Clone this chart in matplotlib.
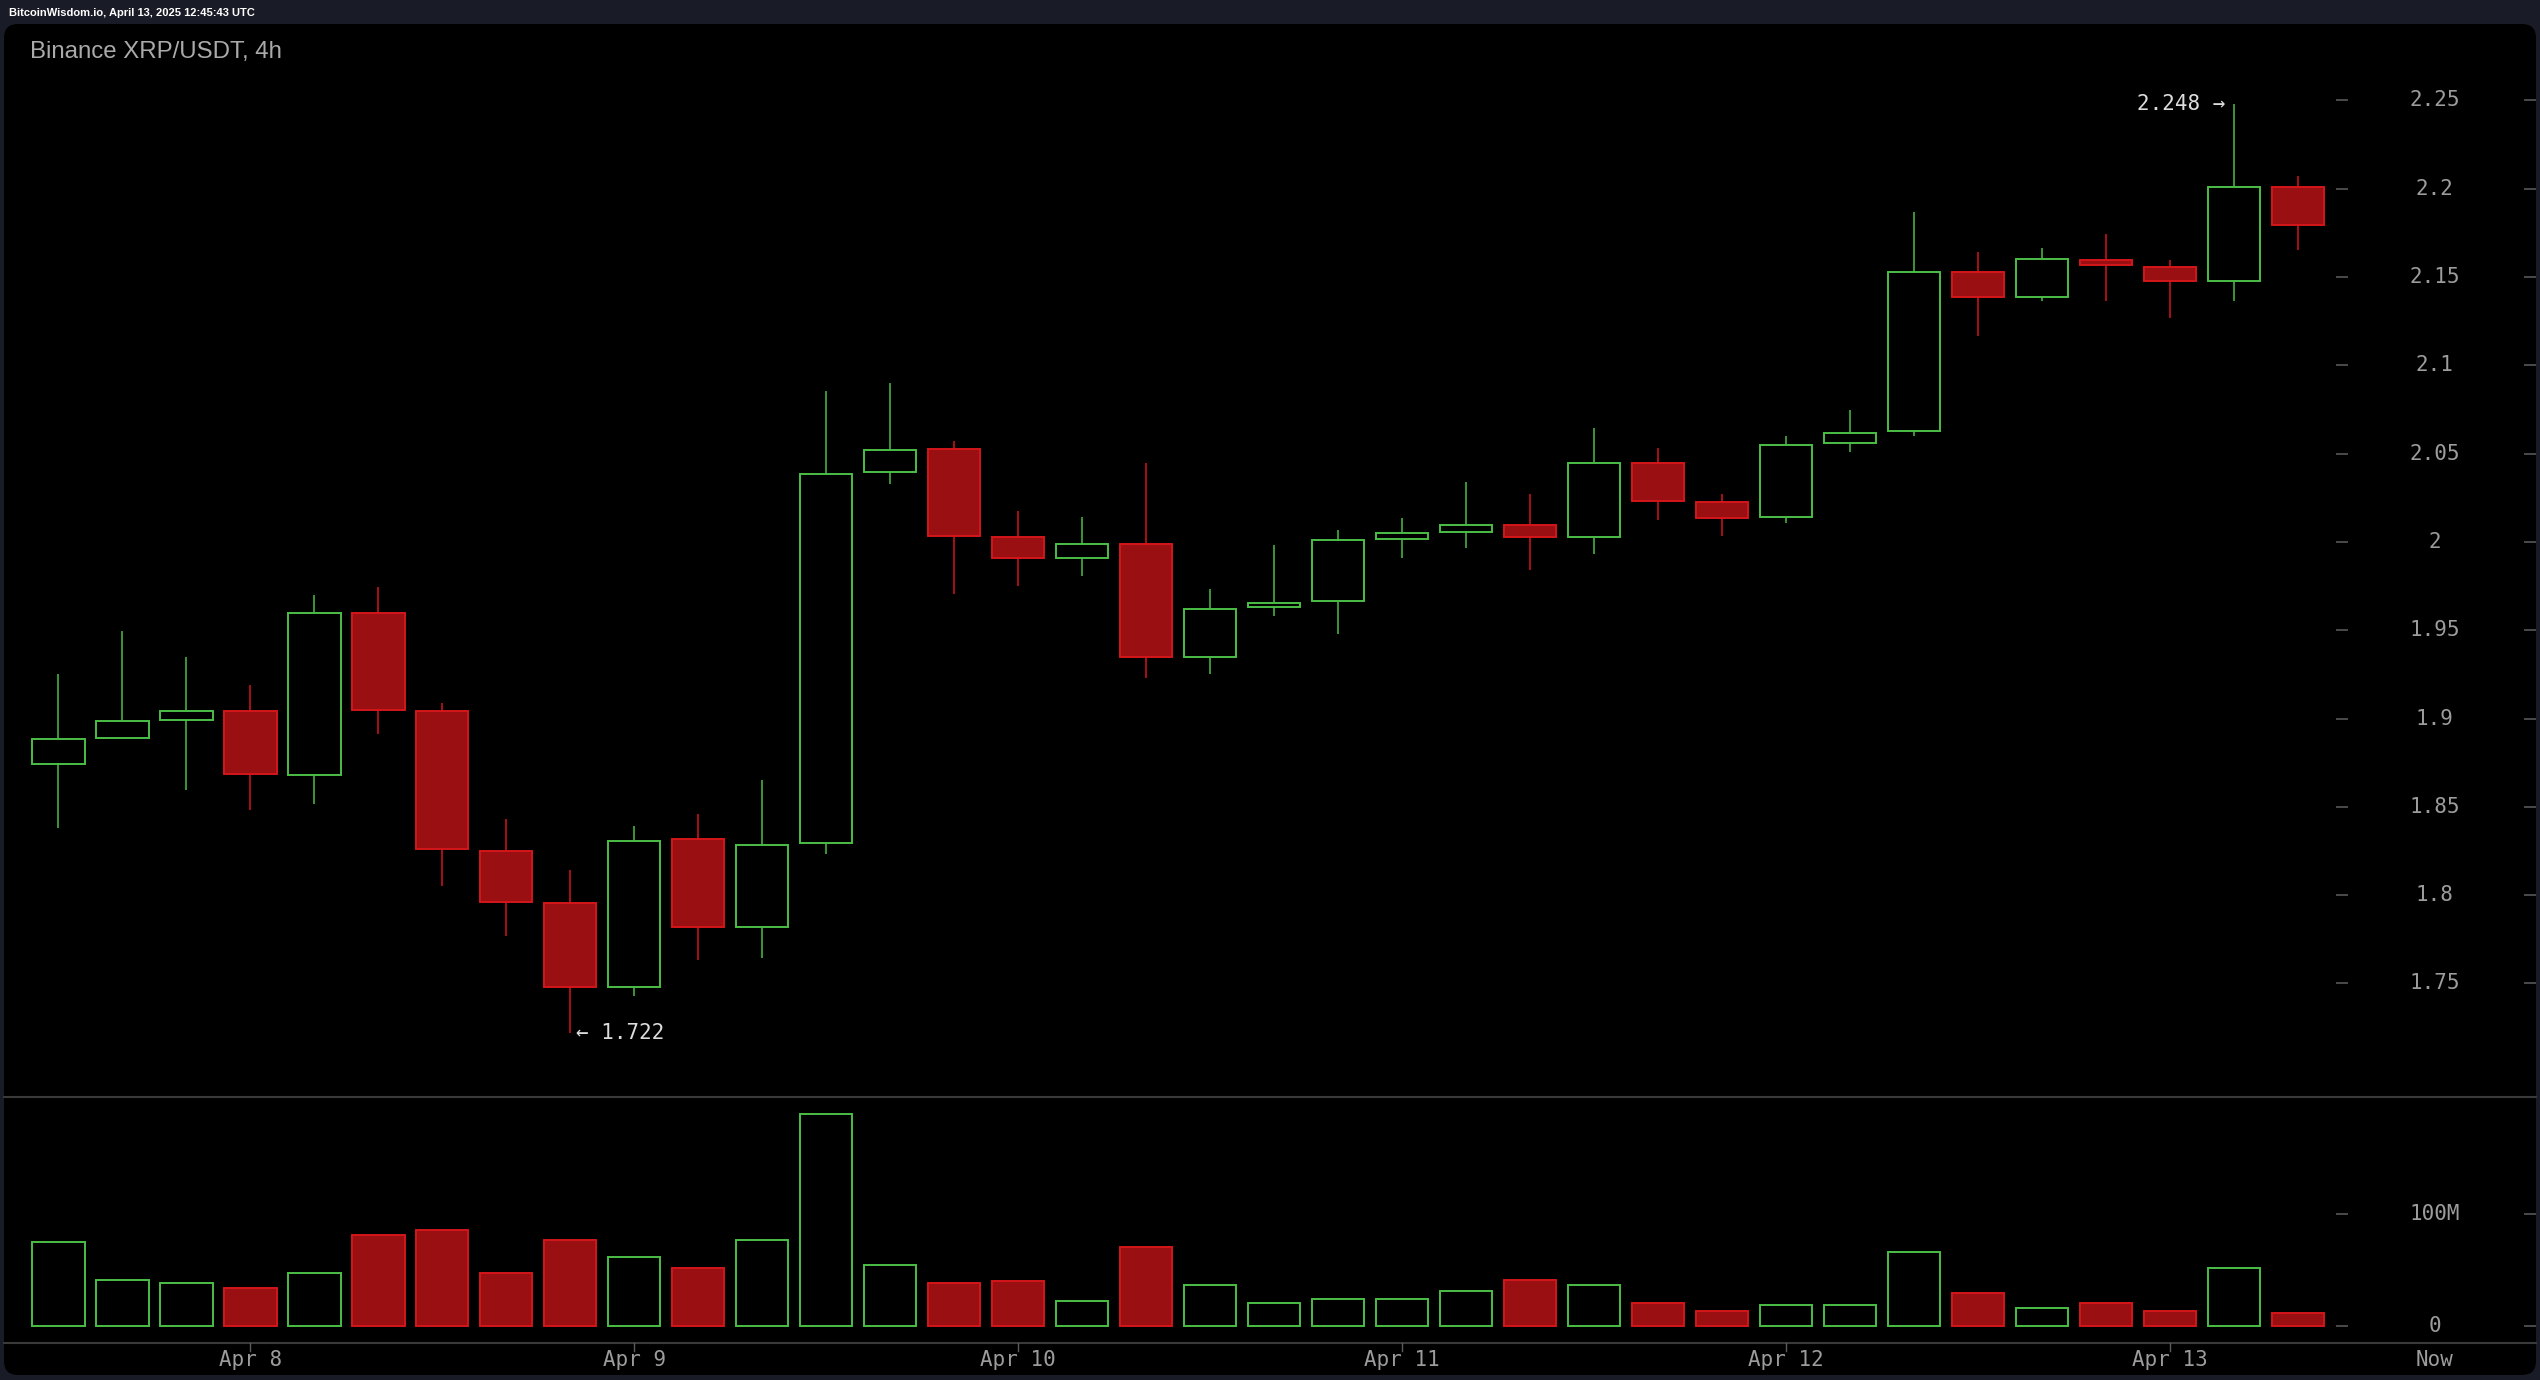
import matplotlib
matplotlib.use("Agg")
import matplotlib.pyplot as plt
from matplotlib.patches import FancyBboxPatch
from matplotlib.lines import Line2D
from matplotlib.transforms import IdentityTransform
import numpy as np

# ---------------- data ----------------
opens = [1.8744, 1.8892, 1.8994, 1.9043, 1.8678, 1.9597, 1.9043, 1.8252, 1.7956, 1.7480,
         1.8318, 1.7820, 1.8293, 2.0396, 2.0525, 2.0027, 1.9908, 1.9991, 1.9350, 1.9629,
         1.9665, 2.0014, 2.0059, 2.0097, 2.0027, 2.0449, 2.0224, 2.0140, 2.0558, 2.0628,
         2.1526, 2.1387, 2.1595, 2.1559, 2.1476, 2.2012]
closes = [1.8885, 1.8984, 1.9043, 1.8687, 1.9595, 1.9050, 1.8259, 1.7964, 1.7478, 1.8307,
          1.7817, 1.8284, 2.0385, 2.0522, 2.0034, 1.9908, 1.9991, 1.9350, 1.9620, 1.9657,
          2.0009, 2.0052, 2.0097, 2.0027, 2.0449, 2.0231, 2.0138, 2.0550, 2.0618, 2.1526,
          2.1385, 2.1605, 2.1569, 2.1476, 2.2012, 2.1794]
highs = [1.9250, 1.9497, 1.9350, 1.9190, 1.9700, 1.9744, 1.9090, 1.8430, 1.8140, 1.8390,
         1.8460, 1.8650, 2.0853, 2.0899, 2.0571, 2.0177, 2.0142, 2.0446, 1.9734, 1.9980,
         2.0067, 2.0135, 2.0338, 2.0269, 2.0644, 2.0530, 2.0269, 2.0598, 2.0747, 2.1868,
         2.1643, 2.1663, 2.1744, 2.1595, 2.2480, 2.2073]
lows = [1.8380, 1.8892, 1.8594, 1.8480, 1.8514, 1.8910, 1.8052, 1.7770, 1.7220, 1.7429,
        1.7632, 1.7644, 1.8232, 2.0326, 1.9703, 1.9748, 1.9805, 1.9230, 1.9250, 1.9580,
        1.9480, 1.9910, 1.9966, 1.9842, 1.9933, 2.0125, 2.0034, 2.0105, 2.0512, 2.0600,
        2.1167, 2.1362, 2.1362, 2.1271, 2.1362, 2.1655]
volumes_m = [75, 41, 38, 34, 47, 81, 86, 47, 77, 61, 52, 77, 190, 54, 38, 40, 22, 70,
             36, 20, 24, 24, 31, 41, 36, 20, 13, 18, 18, 66, 29, 16, 20, 13, 52, 11]

price_ticks = [2.25, 2.2, 2.15, 2.1, 2.05, 2.0, 1.95, 1.9, 1.85, 1.8, 1.75]
price_tick_labels = ["2.25", "2.2", "2.15", "2.1", "2.05", "2", "1.95", "1.9", "1.85", "1.8", "1.75"]
vol_ticks = [0, 100]
vol_tick_labels = ["0", "100M"]
day_labels = ["Apr 8", "Apr 9", "Apr 10", "Apr 11", "Apr 12", "Apr 13"]
day_start_index = 3          # candle index of Apr 8 00:00
candles_per_day = 6
now_label = "Now"
title = "Binance XRP/USDT, 4h"
stamp = "BitcoinWisdom.io, April 13, 2025 12:45:43 UTC"
hi_label = "2.248 \u2192"
lo_label = "\u2190 1.722"

# ---------------- style ----------------
W, H = 2540, 1380
GREEN = "#4cbf47"
RED_EDGE = "#d3161b"
RED_FILL = "#9a0f12"
FRAME = "#191c26"
GRID_LINE = "#3a3a3a"
LABEL = "#9c9c9c"
MONO = "DejaVu Sans Mono"

fig = plt.figure(figsize=(W / 100, H / 100), dpi=100, facecolor=FRAME)

# black rounded panel (pixel coordinates, origin bottom-left)
panel = FancyBboxPatch((4, 5), 2532, 1351, boxstyle="round,pad=0,rounding_size=14",
                       transform=IdentityTransform(), fc="black", ec="none", zorder=-5)
fig.patches.append(panel)

x_left, x_right = -0.849, 38.72
ax = fig.add_axes([4 / W, 283 / H, 2532 / W, (1356 - 283) / H])
axv = fig.add_axes([4 / W, 37.3 / H, 2532 / W, (283 - 37.3) / H])
for a in (ax, axv):
    a.set_facecolor("none")
    a.set_xlim(x_left, x_right)
    for s in a.spines.values():
        s.set_visible(False)
    a.set_xticks([])
    a.set_yticks([])
    a.set_zorder(2)

ax.set_ylim(1.6857, 2.2933)
axv.set_ylim(-15.4, 204.9)

n = len(opens)
xs = np.arange(n)
up = [c >= o for o, c in zip(opens, closes)]
colors_edge = [GREEN if u else RED_EDGE for u in up]
colors_fill = ["black" if u else RED_FILL for u in up]

# wicks
ax.vlines(xs, lows, highs, colors=colors_edge, linewidth=1.1, zorder=1)
# bodies
bottoms = [min(o, c) for o, c in zip(opens, closes)]
heights = [max(abs(c - o), 0.0008) for o, c in zip(opens, closes)]
ax.bar(xs, heights, bottom=bottoms, width=0.82, color=colors_fill,
       edgecolor=colors_edge, linewidth=1.4, zorder=2)

# volume bars
axv.bar(xs, volumes_m, width=0.82, color=colors_fill, edgecolor=colors_edge,
        linewidth=1.4, zorder=2)

# price axis labels and tick dashes
label_x = 37.14
for v, lab in zip(price_ticks, price_tick_labels):
    ax.text(label_x, v, lab, ha="center", va="center", family=MONO, fontsize=15, color=LABEL)
    ax.plot([35.59, 35.78], [v, v], color="#505050", lw=1.3, solid_capstyle="butt")
    ax.plot([38.53, 38.72], [v, v], color="#505050", lw=1.3, solid_capstyle="butt")
for v, lab in zip(vol_ticks, vol_tick_labels):
    axv.text(label_x, v, lab, ha="center", va="center", family=MONO, fontsize=15, color=LABEL)
    axv.plot([35.59, 35.78], [v, v], color="#505050", lw=1.3, solid_capstyle="butt")
    axv.plot([38.53, 38.72], [v, v], color="#505050", lw=1.3, solid_capstyle="butt")

# x labels (below volume panel)
for k, lab in enumerate(day_labels):
    xi = day_start_index + k * candles_per_day
    axv.plot([xi, xi], [-15.4, -23.0], color="#5a5a5a", lw=1.0, clip_on=False)
    axv.text(xi, -30.5, lab, ha="center", va="center", family=MONO, fontsize=15,
             color=LABEL, clip_on=False)
axv.text(label_x, -30.5, now_label, ha="center", va="center", family=MONO, fontsize=15,
         color=LABEL, clip_on=False)

# hi / lo annotations
i_hi = int(np.argmax(highs))
i_lo = int(np.argmin(lows))
ax.text(i_hi - 0.13, highs[i_hi], hi_label, ha="right", va="center", family=MONO,
        fontsize=15, color="#dcdcdc")
ax.text(i_lo + 0.09, lows[i_lo], lo_label, ha="left", va="center", family=MONO,
        fontsize=15, color="#dcdcdc")

# separator lines
for y in (283, 37.3):
    fig.add_artist(Line2D([4, 2536], [y, y], transform=IdentityTransform(),
                          color=GRID_LINE, lw=1.5, zorder=1))

# titles
fig.text(30 / W, 1 - 51.7 / H, title, ha="left", va="center", family="Liberation Sans",
         fontsize=17.3, color="#aaaaaa")
fig.text(9 / W, 1 - 13 / H, stamp, ha="left", va="center", family="Liberation Sans",
         fontsize=8, fontweight="bold", color="white")

fig.savefig("out.png", dpi=100, facecolor=FRAME)
